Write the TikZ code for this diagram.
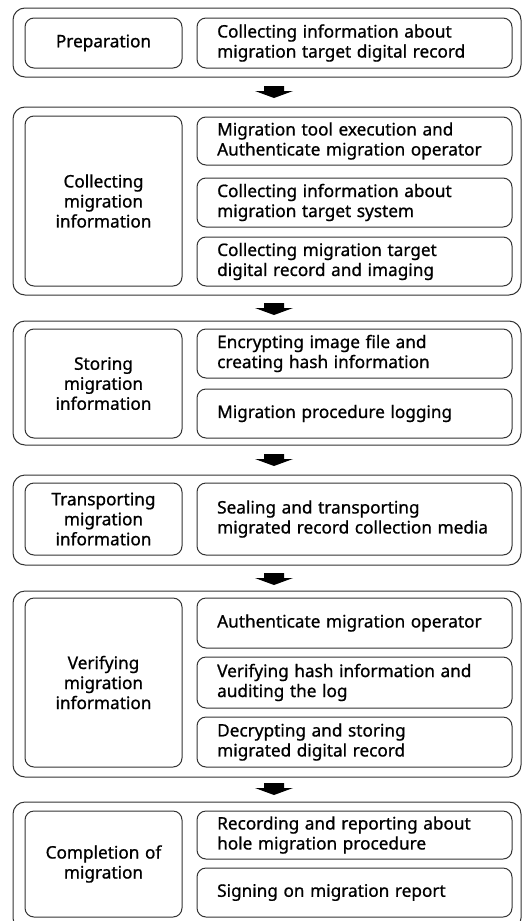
\documentclass[tikz,border=0pt]{standalone}
\usepackage{fontspec}
\setmainfont{Noto Sans}
\newfontfamily\mfont{Noto Sans}[FakeBold=0.9,WordSpace={1.25}]
\begin{document}
\begin{tikzpicture}[x=1pt,y=-1pt,
  outerbox/.style={draw=black!80,line width=1pt,rounded corners=12pt,minimum width=508pt,inner sep=0pt},
  leftbox/.style={draw=black!80,line width=1pt,rounded corners=9pt,minimum width=157pt,inner sep=0pt,align=center,font=\mfont\fontsize{17.2}{20}\selectfont},
  rightbox/.style={draw=black!80,line width=1pt,rounded corners=9pt,minimum width=315pt,inner sep=0pt},
  rtext/.style={anchor=west,align=left,inner sep=0pt,font=\mfont\fontsize{17.2}{20}\selectfont},
  blockarrow/.pic={\fill[black] (-10,0) -- (10,0) -- (10,5) -- (19,5) -- (0,12) -- (-19,5) -- (-10,5) -- cycle;}
]
\useasboundingbox (0,0) rectangle (532,921);
% Group 1
\node[outerbox,minimum height=69pt] (g1) at (267,42.5) {};
\node[leftbox,minimum height=50pt] (l1) at (103.5,43) {Preparation};
\node[rightbox,minimum height=50pt] (r11) at (354.5,43) {};
\node[rtext] (t11) at (217,43) {Collecting information about\\migration target digital record};
\pic at (274,86) {blockarrow};
% Group 2
\node[outerbox,minimum height=188pt] (g2) at (267,201) {};
\node[leftbox,minimum height=170pt] (l2) at (103.5,201) {Collecting\\migration\\information};
\node[rightbox,minimum height=48pt] (r21) at (354.5,141) {};
\node[rtext] (t21) at (217,141) {Migration tool execution and\\Authenticate migration operator};
\node[rightbox,minimum height=49pt] (r22) at (354.5,202.5) {};
\node[rtext] (t22) at (217,202.5) {Collecting information about\\migration target system};
\node[rightbox,minimum height=49pt] (r23) at (354.5,261.5) {};
\node[rtext] (t23) at (217,261.5) {Collecting migration target\\digital record and imaging};
\pic at (274,303) {blockarrow};
% Group 3
\node[outerbox,minimum height=124pt] (g3) at (267,383) {};
\node[leftbox,minimum height=109pt] (l3) at (103.5,383.5) {Storing\\migration\\information};
\node[rightbox,minimum height=49pt] (r31) at (354.5,353.5) {};
\node[rtext] (t31) at (217,353.5) {Encrypting image file and\\creating hash information};
\node[rightbox,minimum height=49pt] (r32) at (354.5,413.5) {};
\node[rtext] (t32) at (217,413.5) {Migration procedure logging};
\pic at (274,454) {blockarrow};
% Group 4
\node[outerbox,minimum height=90pt] (g4) at (267,520) {};
\node[leftbox,minimum height=72pt] (l4) at (103.5,519) {Transporting\\migration\\information};
\node[rightbox,minimum height=72pt] (r41) at (354.5,519) {};
\node[rtext] (t41) at (217,519) {Sealing and transporting\\migrated record collection media};
\pic at (274,573) {blockarrow};
% Group 5
\node[outerbox,minimum height=186pt] (g5) at (267,684) {};
\node[leftbox,minimum height=169pt] (l5) at (103.5,682.5) {Verifying\\migration\\information};
\node[rightbox,minimum height=50pt] (r51) at (354.5,623) {};
\node[rtext] (t51) at (217,623) {Authenticate migration operator};
\node[rightbox,minimum height=51pt] (r52) at (354.5,682.5) {};
\node[rtext] (t52) at (217,682.5) {Verifying hash information and\\auditing the log};
\node[rightbox,minimum height=50pt] (r53) at (354.5,742) {};
\node[rtext] (t53) at (217,742) {Decrypting and storing\\migrated digital record};
\pic at (274,783) {blockarrow};
% Group 6
\node[outerbox,minimum height=128pt] (g6) at (267,866) {};
\node[leftbox,minimum height=106pt] (l6) at (103.5,864) {Completion of\\migration};
\node[rightbox,minimum height=48pt] (r61) at (354.5,835) {};
\node[rtext] (t61) at (217,835) {Recording and reporting about\\hole migration procedure};
\node[rightbox,minimum height=49pt] (r62) at (354.5,892.5) {};
\node[rtext] (t62) at (217,892.5) {Signing on migration report};
\end{tikzpicture}
\end{document}
